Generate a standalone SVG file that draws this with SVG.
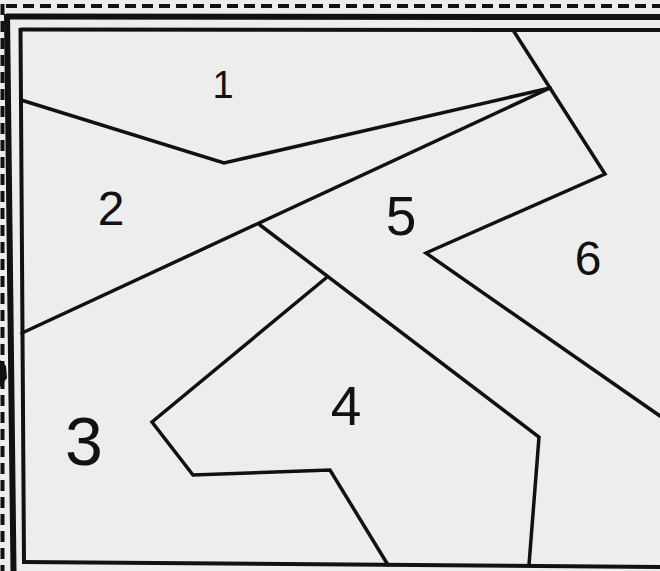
<svg xmlns="http://www.w3.org/2000/svg" width="660" height="571" viewBox="0 0 660 571">
<style>
.bg{fill:#ededed}
.dash{stroke:#111;stroke-width:4;stroke-dasharray:11 6;fill:none}
.thick{stroke:#111;stroke-width:6;fill:none}
.inner{stroke:#111;stroke-width:4;fill:none}
.b{stroke:#111;stroke-width:3.5;fill:none;stroke-linejoin:miter;stroke-linecap:round}
.lbl{font-family:"Liberation Sans",Arial,sans-serif;fill:#111;text-anchor:middle}
</style>
<rect class="bg" x="0" y="0" width="660" height="571"/>
<g id="frame">
<line class="dash" x1="6" y1="6" x2="660" y2="6"/>
<line class="dash" x1="2.5" y1="4" x2="2.5" y2="571"/>
<line class="thick" x1="6" y1="16.5" x2="660" y2="17"/>
<line class="thick" x1="7" y1="14" x2="13.5" y2="571"/>
<line class="inner" x1="20" y1="29.5" x2="660" y2="30"/>
<line class="inner" x1="20.5" y1="28" x2="24" y2="563"/>
<line class="inner" x1="22" y1="562" x2="660" y2="567"/>
<path d="M0 360 L6 366 L7 378 L0 387 Z" fill="#111"/>
</g>
<g id="borders">
<polyline class="b" points="21,100 224,163 550,88"/>
<line class="b" x1="22" y1="333" x2="550" y2="88"/>
<polyline class="b" points="513,30 550,88 605,174 426,253 660,416"/>
<polyline class="b" points="260,225 539,437 529,565"/>
<polyline class="b" points="326,278 152,422 193,475 330,470 388,565"/>
</g>
<g id="region-1"><text class="lbl" x="223" y="98" font-size="38">1</text></g>
<g id="region-2"><text class="lbl" x="111" y="225" font-size="48">2</text></g>
<g id="region-3"><text class="lbl" x="84" y="465" font-size="68">3</text></g>
<g id="region-4"><text class="lbl" x="346" y="425" font-size="55">4</text></g>
<g id="region-5"><text class="lbl" x="401" y="235" font-size="55">5</text></g>
<g id="region-6"><text class="lbl" x="588" y="275" font-size="48">6</text></g>
</svg>
